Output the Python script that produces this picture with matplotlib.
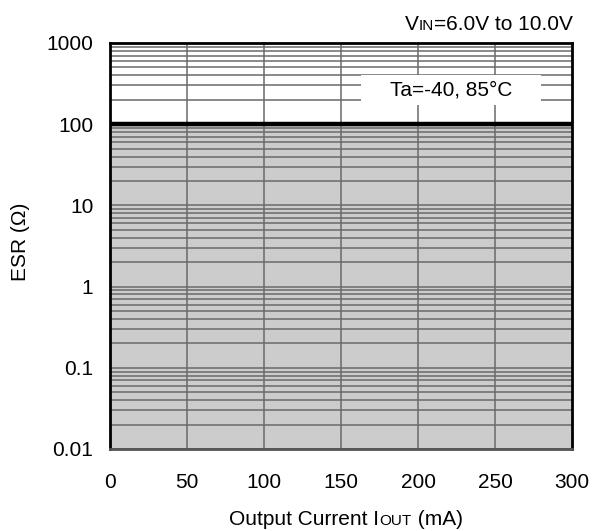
import numpy as np
import matplotlib.pyplot as plt
from matplotlib.patches import Rectangle

plt.rcParams['font.family'] = ['Liberation Sans', 'DejaVu Sans']

# stable ESR region vs output current
iout = [0, 300]
esr_low = [0.01, 0.01]
esr_high = [100, 100]
xticks = [0, 50, 100, 150, 200, 250, 300]
yticks = [0.01, 0.1, 1, 10, 100, 1000]
yticklabels = ['0.01', '0.1', '1', '10', '100', '1000']

W, H = 592, 531
fig = plt.figure(figsize=(W / 100, H / 100), dpi=100)
ax = fig.add_axes([110/W, 1 - 449/H, 462/W, 406/H])

ax.fill_between(iout, esr_low, esr_high, color='#cccccc', lw=0, zorder=0)
ax.plot(iout, esr_high, color='black', lw=3.2, zorder=4, solid_capstyle='butt')

ax.set_yscale('log')
ax.set_xlim(0, 300)
ax.set_ylim(0.01, 1000)

# grid lines
for dec in [0.01, 0.1, 1, 10, 100]:
    for k in range(1, 10):
        ax.axhline(dec * k, color='#6a6a6a', lw=1.1, zorder=1)
for xv in xticks[1:-1]:
    ax.axvline(xv, color='#6a6a6a', lw=1.1, zorder=1)

ax.set_xticks(xticks)
ax.set_yticks(yticks)
ax.set_yticklabels(yticklabels)
ax.minorticks_off()
ax.tick_params(length=0, labelsize=15)
ax.tick_params(axis='y', pad=12)
ax.tick_params(axis='x', pad=17)

for s in ['left', 'right', 'top']:
    ax.spines[s].set_linewidth(2)
    ax.spines[s].set_color('black')
ax.spines['bottom'].set_linewidth(2)
ax.spines['bottom'].set_color('#555555')

fig.text(20/W, 1 - 242/H, 'ESR (Ω)', fontsize=15, rotation=90, ha='center', va='center')

r = fig.canvas.get_renderer()

def chain(pieces, x, y, ha='left'):
    # place text pieces side by side on one baseline, starting (or ending) at x
    texts = []
    for s, fs in pieces:
        texts.append(fig.text(0, y, s, fontsize=fs, va='baseline'))
    widths = [t.get_window_extent(r).width for t in texts]
    total = sum(widths)
    if ha == 'right':
        x0 = x * W - total
    elif ha == 'center':
        x0 = x * W - total / 2
    else:
        x0 = x * W
    for t, w in zip(texts, widths):
        t.set_x(x0 / W)
        x0 += w

chain([('Output Current I', 15), ('OUT', 11), (' (mA)', 15)], 346/W, 1 - 525/H, ha='center')
chain([('V', 15), ('IN', 11), ('=6.0V to 10.0V', 15)], 573/W, 1 - 30/H, ha='right')

ax.add_patch(Rectangle(((361-110)/462, (449-105)/406), 180/462, 30/406,
                       transform=ax.transAxes, facecolor='white', edgecolor='none', zorder=5))
ax.text((451-110)/462, (449-90)/406, 'Ta=-40, 85°C', transform=ax.transAxes, fontsize=15,
        ha='center', va='center', zorder=6)

fig.savefig('out.png', dpi=100)
